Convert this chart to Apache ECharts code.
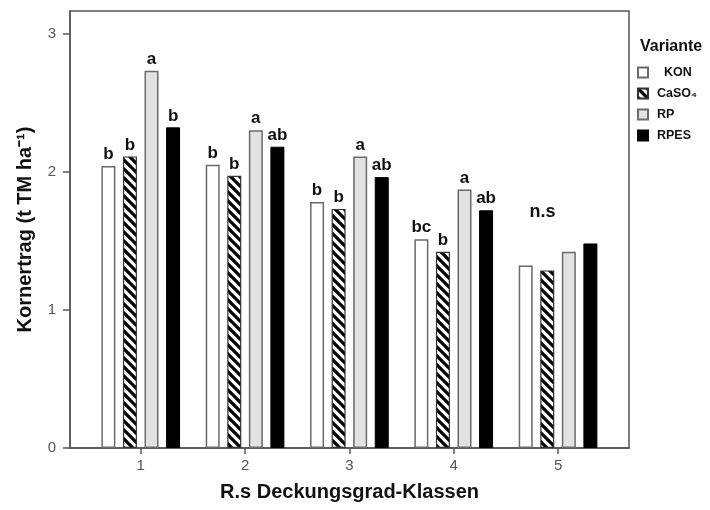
<!DOCTYPE html>
<html>
<head>
<meta charset="utf-8">
<script src="https://cdn.jsdelivr.net/npm/echarts@6/dist/echarts.min.js"></script>
<style>html,body{margin:0;padding:0;background:#fff;}#c{width:710px;height:510px;}</style>
</head>
<body>
<div id="c"></div>
<script>
const categories = [1, 2, 3, 4, 5];
const seriesNames = ['KON', 'CaSO\u2084', 'RP', 'RPES'];
const konValues = [2.04, 2.05, 1.78, 1.51, 1.32];
const caso4Values = [2.11, 1.97, 1.73, 1.42, 1.285];
const rpValues = [2.73, 2.30, 2.11, 1.87, 1.42];
const rpesValues = [2.32, 2.18, 1.96, 1.72, 1.48];
const konLetters = ['b', 'b', 'b', 'bc', ''];
const caso4Letters = ['b', 'b', 'b', 'b', ''];
const rpLetters = ['a', 'a', 'a', 'a', ''];
const rpesLetters = ['b', 'ab', 'ab', 'ab', ''];
const yTicks = [0, 1, 2, 3];
const nsNote = { x: 4.85, y: 1.71, text: 'n.s' };

const FONT = 'Liberation Sans, Arial, sans-serif';

// hatch pattern
const T = 9;
const pc = document.createElement('canvas');
pc.width = T; pc.height = T;
const ctx = pc.getContext('2d');
ctx.fillStyle = '#fff'; ctx.fillRect(0, 0, T, T);
ctx.strokeStyle = '#000'; ctx.lineWidth = 3.2;
ctx.beginPath();
ctx.moveTo(-2, -2); ctx.lineTo(T + 2, T + 2);
ctx.moveTo(-2, T - 2); ctx.lineTo(2, T + 2);
ctx.moveTo(T - 2, -2); ctx.lineTo(T + 2, 2);
ctx.stroke();

function pairs(vals) { return categories.map((c, i) => [c, vals[i]]); }

function mkSeries(name, vals, letters, itemStyle) {
  return {
    name: name,
    type: 'bar',
    data: pairs(vals),
    barWidth: 14,
    barGap: '54%',
    itemStyle: itemStyle,
    label: {
      show: true,
      position: 'top',
      distance: 3,
      color: '#111',
      fontFamily: FONT,
      fontWeight: 'bold',
      fontSize: 17,
      formatter: p => letters[p.dataIndex]
    }
  };
}

const chart = echarts.init(document.getElementById('c'), null, { renderer: 'canvas' });
chart.setOption({
  animation: false,
  backgroundColor: '#fff',
  title: {
    text: 'Variante',
    left: 635, top: 34,
    textStyle: { fontFamily: FONT, fontWeight: 'bold', fontSize: 16, color: '#111' }
  },
  legend: {
    orient: 'vertical',
    left: 637, top: 66,
    padding: 0,
    itemWidth: 10, itemHeight: 10, itemGap: 8,
    icon: 'rect',
    data: seriesNames,
    formatter: n => n === 'KON' ? '  KON' : n,
    textStyle: { fontFamily: FONT, fontWeight: 'bold', fontSize: 12.5, lineHeight: 12, color: '#111', padding: [0, 0, 0, 4] }
  },
  grid: {
    left: 70, right: 81, top: 11, bottom: 62,
    show: true, borderColor: '#555', borderWidth: 1.5, backgroundColor: 'transparent'
  },
  xAxis: {
    type: 'value',
    min: 0.322, max: 5.68,
    name: 'R.s Deckungsgrad-Klassen',
    nameLocation: 'middle',
    nameGap: 34,
    nameTextStyle: { fontFamily: FONT, fontWeight: 'bold', fontSize: 20, color: '#111' },
    axisLine: { show: true, lineStyle: { color: '#555', width: 1.5 } },
    axisTick: { show: true, length: 6, customValues: categories, lineStyle: { color: '#555', width: 1.5 } },
    axisLabel: { customValues: categories, color: '#555', fontFamily: FONT, fontSize: 15, margin: 10 },
    splitLine: { show: false }
  },
  yAxis: {
    type: 'value',
    min: 0, max: 3.162,
    name: 'Kornertrag (t TM ha\u207B\u00B9)',
    nameLocation: 'middle',
    nameGap: 35,
    nameTextStyle: { fontFamily: FONT, fontWeight: 'bold', fontSize: 20, color: '#111' },
    axisLine: { show: true, lineStyle: { color: '#555', width: 1.5 } },
    axisTick: { show: true, length: 7, customValues: yTicks, lineStyle: { color: '#555', width: 1.5 } },
    axisLabel: { customValues: yTicks, color: '#555', fontFamily: FONT, fontSize: 15, margin: 14 },
    splitLine: { show: false }
  },
  series: [
    mkSeries(seriesNames[0], konValues, konLetters, { color: '#fff', borderColor: '#6a6a6a', borderWidth: 1.5 }),
    mkSeries(seriesNames[1], caso4Values, caso4Letters, { color: { image: pc, repeat: 'repeat' }, borderColor: '#333', borderWidth: 1.2 }),
    mkSeries(seriesNames[2], rpValues, rpLetters, { color: '#e2e2e2', borderColor: '#6a6a6a', borderWidth: 1.5 }),
    mkSeries(seriesNames[3], rpesValues, rpesLetters, { color: '#000', borderColor: '#000', borderWidth: 1 })
  ]
});

const nsPt = chart.convertToPixel({ xAxisIndex: 0, yAxisIndex: 0 }, [nsNote.x, nsNote.y]);
chart.setOption({
  graphic: [{
    type: 'text',
    x: nsPt[0], y: nsPt[1],
    style: { text: nsNote.text, fill: '#111', font: 'bold 18px ' + FONT, textAlign: 'center', textVerticalAlign: 'middle' }
  }]
});
</script>
</body>
</html>
